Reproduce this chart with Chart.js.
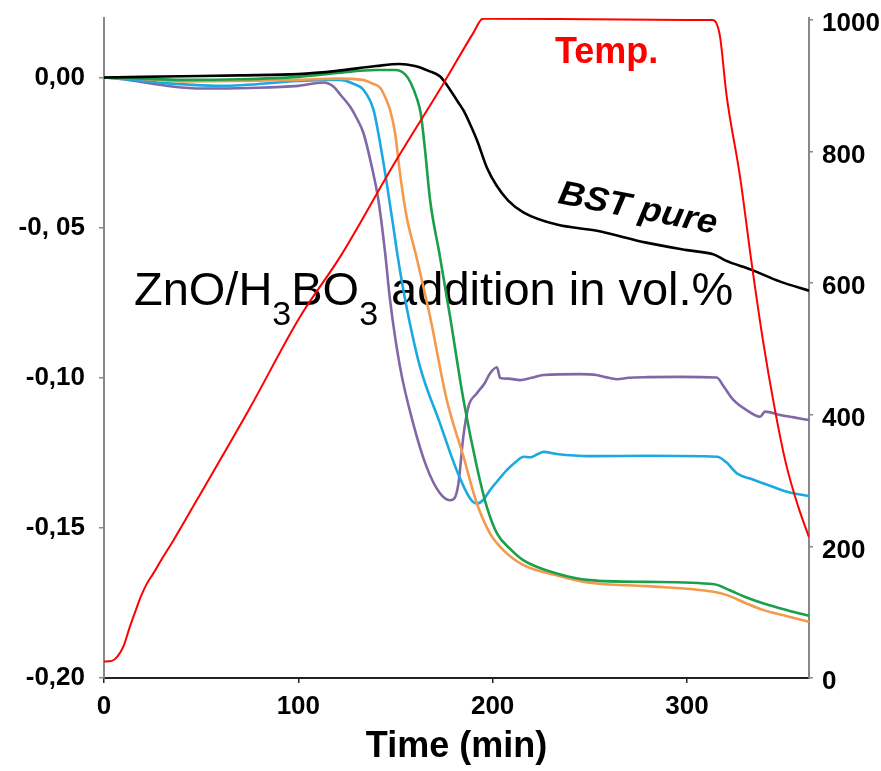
<!DOCTYPE html>
<html>
<head>
<meta charset="utf-8">
<script src="https://cdn.jsdelivr.net/npm/chart.js@4/dist/chart.umd.min.js"></script>
<style>
html,body{margin:0;padding:0;background:#fff;}
#wrap{width:881px;height:771px;position:relative;}
</style>
</head>
<body>
<div id="wrap"><canvas id="c" width="881" height="771"></canvas></div>
<script>
// ---- Data ----
const timeTemp = [0, 4, 7, 10, 13, 16, 19, 22, 25.4, 30, 35.7, 47.7, 75, 100.9, 121.5, 150, 174.8, 190, 195, 200, 250, 300, 313, 315, 317, 320.4, 327.3, 333.3, 339, 345.3, 351, 357.3, 362.8];
const tempC    = [25, 26, 33, 48, 75, 100, 124, 143, 159, 182, 209, 270, 410, 549, 640, 785, 904, 980, 1002, 1002, 1001, 1000, 1000, 996, 975, 885, 762, 630, 515, 407, 325, 260, 214];

const timePure = [0, 20, 40, 70, 100, 120, 140, 152, 160, 167, 173, 178, 182, 185, 188, 192, 197, 202, 208, 216, 233, 253, 279, 300, 314, 320, 333, 348, 362.8];
const shrinkPure = [0, 0.0002, 0.0004, 0.0007, 0.0011, 0.0022, 0.0038, 0.0045, 0.0038, 0.0022, 0.0003, -0.004, -0.008, -0.011, -0.015, -0.021, -0.030, -0.036, -0.041, -0.045, -0.049, -0.051, -0.055, -0.0575, -0.059, -0.061, -0.064, -0.068, -0.071];

const timeGreen = [0, 20, 40, 70, 100, 120, 140, 150, 155, 158, 161, 163, 165.2, 167.8, 172.7, 178.1, 185, 191.9, 197, 202.3, 209, 215.9, 233, 250, 280, 314, 322, 330, 339.5, 352, 362.8];
const shrinkGreen = [0, -0.0004, -0.0008, -0.0006, 0.0002, 0.0015, 0.0025, 0.0025, 0.001, -0.002, -0.007, -0.012, -0.0241, -0.0408, -0.059, -0.0797, -0.1074, -0.1297, -0.143, -0.1519, -0.157, -0.1608, -0.1652, -0.1674, -0.168, -0.1688, -0.1708, -0.173, -0.1752, -0.1775, -0.1793];

const timeOrange = [0, 20, 40, 70, 100, 120, 133, 138, 142.2, 145, 147.2, 149.8, 152.3, 155.7, 160.5, 167.8, 176.4, 185, 191.9, 198.7, 205.5, 215.9, 233, 250, 279.5, 313.8, 320.6, 330, 339.5, 352, 362.8];
const shrinkOrange = [0, -0.0005, -0.0013, -0.0012, -0.0008, -0.0004, -0.0008, -0.002, -0.0035, -0.007, -0.0108, -0.0185, -0.0318, -0.0463, -0.059, -0.0797, -0.1074, -0.1263, -0.1419, -0.1519, -0.1574, -0.1624, -0.1658, -0.1683, -0.1694, -0.1713, -0.1724, -0.175, -0.1774, -0.1795, -0.1813];

const timeCyan = [0, 15, 30, 60, 100, 115, 121.5, 128, 133.5, 138.7, 142.1, 145.5, 148.9, 151, 155, 162.6, 172.9, 181.5, 188.4, 192, 195, 198.7, 203, 207.3, 212, 215.9, 219.3, 223, 226.2, 233, 250, 280, 315.5, 320, 325.8, 332, 339.5, 351.5, 362.8];
const shrinkCyan = [0, -0.0008, -0.0018, -0.0028, -0.0012, -0.0008, -0.0008, -0.002, -0.0041, -0.0108, -0.0219, -0.0352, -0.0497, -0.059, -0.0741, -0.0963, -0.1152, -0.1308, -0.1402, -0.1419, -0.1408, -0.1374, -0.134, -0.1308, -0.128, -0.1263, -0.1265, -0.1255, -0.1247, -0.1254, -0.1261, -0.126, -0.1263, -0.128, -0.1319, -0.1335, -0.1352, -0.138, -0.1394];

const timePurple = [0, 10, 20, 35, 50, 75, 100, 112.9, 118, 122, 126.6, 130, 133.5, 137.8, 141.2, 144.6, 147.2, 152.3, 159.1, 166, 172.9, 178.1, 180.5, 182.4, 184.9, 187.5, 191.9, 195.8, 198.7, 202.2, 203.9, 208, 214.2, 220, 226.2, 245, 253.5, 258, 264, 270, 280, 296.4, 315.3, 319, 323.9, 330.7, 337.6, 340.2, 347.9, 355, 362.8];
const shrinkPurple = [0, -0.0006, -0.0016, -0.003, -0.0037, -0.0035, -0.0028, -0.0017, -0.003, -0.006, -0.0097, -0.0135, -0.0185, -0.0297, -0.0408, -0.058, -0.0741, -0.0963, -0.1152, -0.1297, -0.1385, -0.1408, -0.14, -0.1352, -0.1197, -0.1097, -0.1052, -0.1019, -0.0985, -0.0965, -0.1001, -0.1003, -0.1008, -0.1, -0.0991, -0.0988, -0.0991, -0.0998, -0.1005, -0.1, -0.0998, -0.0997, -0.0999, -0.103, -0.1074, -0.1108, -0.113, -0.1113, -0.1124, -0.1132, -0.1141];

const xTickValues = [0, 100, 200, 300];
const xTickLabels = ['0', '100', '200', '300'];
const leftTickValues = [-0.20, -0.15, -0.10, -0.05, 0.00];
const leftTickLabels = ['-0,20', '-0,15', '-0,10', '-0, 05', '0,00'];
const rightTickValues = [0, 200, 400, 600, 800, 1000];
const rightTickLabels = ['0', '200', '400', '600', '800', '1000'];

// ---- helpers ----
const pts = (xs, ys) => xs.map((x, i) => ({x: x, y: ys[i]}));
const FONT = "'Liberation Sans', Arial, Helvetica, sans-serif";
const labelFor = (vals, labels) => (v) => {
  let best = 0, bd = Infinity;
  vals.forEach((t, i) => { const d = Math.abs(t - v); if (d < bd) { bd = d; best = i; } });
  return labels[best];
};
const setTicks = (vals) => (s) => { s.ticks = vals.map(v => ({value: v})); };

const annotations = {
  id: 'annotations',
  beforeDatasetsDraw(chart) {
    const ctx = chart.ctx;
    const xs = chart.scales.x, ys = chart.scales.y;
    ctx.save();
    // Temp.
    ctx.fillStyle = '#ff0000';
    ctx.font = 'bold 36px ' + FONT;
    ctx.textAlign = 'left';
    ctx.textBaseline = 'alphabetic';
    ctx.fillText('Temp.', xs.getPixelForValue(232.1), ys.getPixelForValue(0.0048));
    // BST pure (rotated)
    ctx.fillStyle = '#000';
    ctx.save();
    ctx.translate(xs.getPixelForValue(233.1), ys.getPixelForValue(-0.0418));
    ctx.rotate(11.1 * Math.PI / 180);
    ctx.font = 'italic bold 34px ' + FONT;
    const w = ctx.measureText('BST pure').width;
    ctx.scale(161 / w, 1);
    ctx.fillText('BST pure', 0, 0);
    ctx.restore();
    // ZnO/H3BO3 addition in vol.%
    const main = '47px ' + FONT, sub = '34px ' + FONT;
    let x = xs.getPixelForValue(15.4);
    const base = ys.getPixelForValue(-0.0758);
    const parts = [['ZnO/H', main, 0], ['3', sub, 20], ['BO', main, 0], ['3', sub, 20], [' addition in vol.%', main, 0]];
    for (const [t, f, dy] of parts) {
      ctx.font = f;
      ctx.fillText(t, x, base + dy);
      x += ctx.measureText(t).width;
    }
    ctx.restore();
  }
};

const common = {pointRadius: 0, pointHoverRadius: 0, fill: false, cubicInterpolationMode: 'monotone'};

new Chart(document.getElementById('c'), {
  type: 'line',
  data: {
    datasets: [
      Object.assign({label: 'Temp.', data: pts(timeTemp, tempC), borderColor: '#ff0000', borderWidth: 2, yAxisID: 'y2'}, common),
      Object.assign({label: 'BST pure', data: pts(timePure, shrinkPure), borderColor: '#000000', borderWidth: 2.6, yAxisID: 'y'}, common),
      Object.assign({label: 'green', data: pts(timeGreen, shrinkGreen), borderColor: '#1a9f4b', borderWidth: 2.6, yAxisID: 'y'}, common),
      Object.assign({label: 'orange', data: pts(timeOrange, shrinkOrange), borderColor: '#f39a4e', borderWidth: 2.6, yAxisID: 'y'}, common),
      Object.assign({label: 'cyan', data: pts(timeCyan, shrinkCyan), borderColor: '#1ba9e1', borderWidth: 2.6, yAxisID: 'y'}, common),
      Object.assign({label: 'purple', data: pts(timePurple, shrinkPurple), borderColor: '#8068a8', borderWidth: 2.6, yAxisID: 'y'}, common)
    ]
  },
  options: {
    responsive: false,
    animation: false,
    events: [],
    layout: {padding: {top: 18, left: 0, right: 0, bottom: 0}},
    plugins: {legend: {display: false}, tooltip: {enabled: false}},
    scales: {
      x: {
        type: 'linear', min: 0, max: 362.8,
        afterBuildTicks: setTicks(xTickValues),
        afterFit(s) { s.height = 93; s.paddingLeft = 0; s.paddingRight = 0; },
        ticks: {padding: 8, color: '#000',
          font: {family: FONT, size: 26, weight: 'bold'},
          callback: labelFor(xTickValues, xTickLabels)},
        grid: {drawOnChartArea: false, drawTicks: true, tickLength: 5, color: '#222', lineWidth: 1.5},
        border: {display: true, color: '#222', width: 2},
        title: {display: true, text: 'Time (min)', color: '#000',
          font: {family: FONT, size: 36, weight: 'bold'}, padding: {top: 0, bottom: 2}}
      },
      y: {
        type: 'linear', position: 'left', min: -0.2, max: 0.0198,
        afterBuildTicks: setTicks(leftTickValues),
        afterFit(s) { s.width = 104; s.paddingTop = 0; s.paddingBottom = 0; },
        ticks: {padding: 14, color: '#000',
          font: {family: FONT, size: 26, weight: 'bold'},
          callback: labelFor(leftTickValues, leftTickLabels)},
        grid: {drawOnChartArea: false, drawTicks: true, tickLength: 5, color: '#888', lineWidth: 1.5},
        border: {display: true, color: '#888', width: 2}
      },
      y2: {
        type: 'linear', position: 'right', min: 0, max: 1003,
        afterBuildTicks: setTicks(rightTickValues),
        afterFit(s) { s.width = 72; s.paddingTop = 0; s.paddingBottom = 0; },
        ticks: {padding: 9, labelOffset: 4, color: '#000',
          font: {family: FONT, size: 26, weight: 'bold'},
          callback: labelFor(rightTickValues, rightTickLabels)},
        grid: {drawOnChartArea: false, drawTicks: true, tickLength: 4, color: '#888', lineWidth: 1.5},
        border: {display: true, color: '#888', width: 2}
      }
    }
  },
  plugins: [annotations]
});
</script>
</body>
</html>
